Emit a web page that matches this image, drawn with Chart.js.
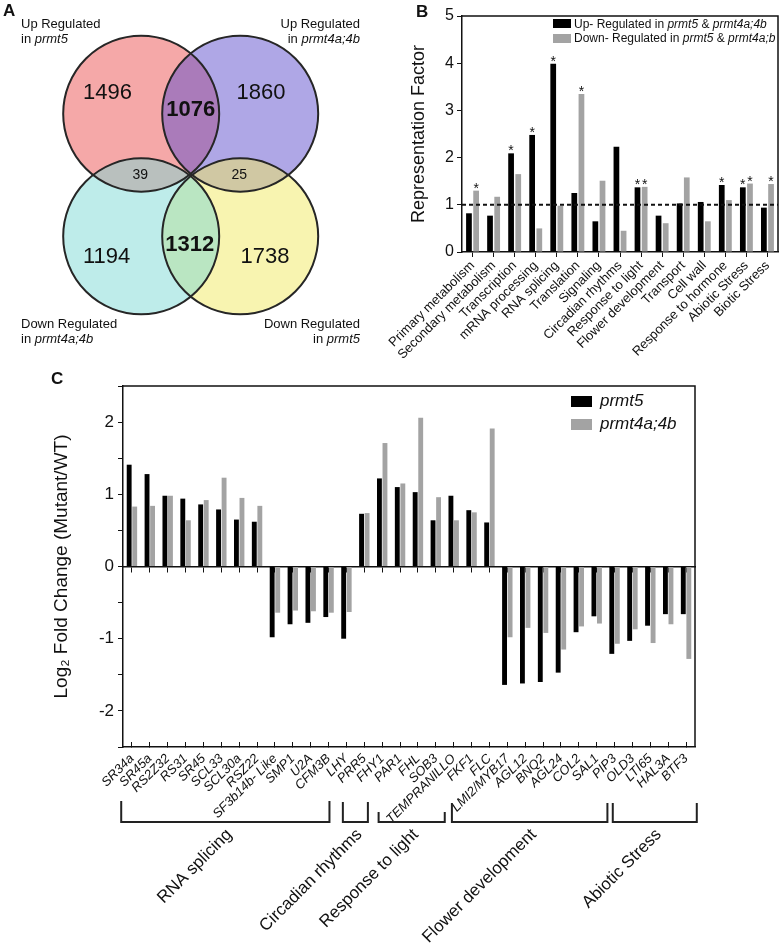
<!DOCTYPE html>
<html>
<head>
<meta charset="utf-8">
<script src="https://cdn.jsdelivr.net/npm/chart.js@4.4.0/dist/chart.umd.min.js"></script>
<style>
body { margin:0; background:#fff; width:780px; height:944px; position:relative; overflow:hidden;
  font-family: Arial, "Liberation Sans", Helvetica, sans-serif; color:#111; }
canvas { position:absolute; }
.t { position:absolute; white-space:nowrap; }
.panel { font-weight:bold; font-size:17px; }
.venn { font-size:13px; line-height:15px; }
.sw { position:absolute; }
</style>
</head>
<body>
<canvas id="venn" width="390" height="350" style="left:0;top:0"></canvas>
<canvas id="chartB" width="400" height="360" style="left:380px;top:0"></canvas>
<canvas id="chartC" width="780" height="584" style="left:0;top:360px"></canvas>

<div class="t panel" style="left:3px;top:1px">A</div>
<div class="t panel" style="left:416px;top:2px">B</div>
<div class="t panel" style="left:51px;top:369px">C</div>

<div class="t venn" style="left:21px;top:16px">Up Regulated<br>in <i>prmt5</i></div>
<div class="t venn" style="right:420px;top:16px;text-align:right">Up Regulated<br>in <i>prmt4a;4b</i></div>
<div class="t venn" style="left:21px;top:316px">Down Regulated<br>in <i>prmt4a;4b</i></div>
<div class="t venn" style="right:420px;top:316px;text-align:right">Down Regulated<br>in <i>prmt5</i></div>

<div class="sw" style="left:553px;top:19px;width:18px;height:9px;background:#000"></div>
<div class="sw" style="left:553px;top:34px;width:18px;height:9px;background:#a3a3a3"></div>
<div class="t" style="left:574px;top:17px;font-size:12px;line-height:14px">Up- Regulated in <i>prmt5</i> &amp; <i>prmt4a;4b</i></div>
<div class="t" style="left:574px;top:31px;font-size:12px;line-height:14px">Down- Regulated in <i>prmt5</i> &amp; <i>prmt4a;b</i></div>

<div class="sw" style="left:571px;top:396px;width:21px;height:11px;background:#000"></div>
<div class="sw" style="left:571px;top:419px;width:21px;height:11px;background:#a3a3a3"></div>
<div class="t" style="left:600px;top:391px;font-size:17px;line-height:20px"><i>prmt5</i></div>
<div class="t" style="left:600px;top:414px;font-size:17px;line-height:20px"><i>prmt4a;4b</i></div>

<script>
Chart.defaults.font.family = 'Arial, "Liberation Sans", Helvetica, sans-serif';
Chart.defaults.color = '#111';
Chart.defaults.animation = false;

// ---- A: Venn counts ----
const vennCounts = [1496, 1076, 1860, 39, 25, 1194, 1312, 1738];
const vennBold = [false, true, false, false, false, false, true, false];

// ---- B: representation factor ----
const bCategories = ['Primary metabolism', 'Secondary metabolism', 'Transcription', 'mRNA processing',
  'RNA splicing', 'Translation', 'Signaling', 'Circadian rhythms', 'Response to light',
  'Flower development', 'Transport', 'Cell wall', 'Response to hormone', 'Abiotic Stress', 'Biotic Stress'];
const bUp   = [0.82, 0.77, 2.09, 2.48, 3.99, 1.25, 0.65, 2.23, 1.37, 0.77, 1.03, 1.06, 1.42, 1.37, 0.94];
const bDown = [1.30, 1.17, 1.65, 0.50, 0.98, 3.35, 1.51, 0.45, 1.38, 0.61, 1.58, 0.65, 1.10, 1.45, 1.44];
const bUpStar   = [0, 0, 1, 1, 1, 0, 0, 0, 1, 0, 0, 0, 1, 1, 0];
const bDownStar = [1, 0, 0, 0, 0, 1, 0, 0, 1, 0, 0, 0, 0, 1, 1];
const bRefLine = 1;

// ---- C: log2 fold change ----
const cGenes = ['SR34a', 'SR45a', 'RS2Z32', 'RS31', 'SR45', 'SCL33', 'SCL30a', 'RSZ22', 'SF3b14b- Like',
  'SMP1', 'U2A', 'CFM3B', 'LHY', 'PRR5', 'FHY1', 'PAR1', 'FHL', 'SOB3', 'TEMPRANILLO', 'FKF1', 'FLC',
  'LMI2/MYB17', 'AGL12', 'BNQ2', 'AGL24', 'COL2', 'SAL1', 'PIP3', 'OLD3', 'LTI65', 'HAL3A', 'BTF3'];
const cPrmt5 = [1.41, 1.28, 0.98, 0.94, 0.86, 0.79, 0.65, 0.62, -0.98, -0.80, -0.78, -0.70, -1.00,
  0.73, 1.22, 1.10, 1.03, 0.64, 0.98, 0.78, 0.61, -1.64, -1.62, -1.60, -1.47, -0.91, -0.69,
  -1.21, -1.03, -0.82, -0.66, -0.66];
const cPrmt4 = [0.83, 0.84, 0.98, 0.64, 0.92, 1.23, 0.95, 0.84, -0.64, -0.61, -0.62, -0.64, -0.63,
  0.74, 1.71, 1.15, 2.06, 0.96, 0.64, 0.75, 1.91, -0.98, -0.85, -0.92, -1.15, -0.83, -0.79,
  -1.07, -0.87, -1.06, -0.80, -1.28];
const groupNames = ['RNA splicing', 'Circadian rhythms', 'Response to light', 'Flower development', 'Abiotic Stress'];
const groupFrom = [-0.6, 11.8, 13.8, 17.9, 26.9];
const groupTo   = [11.05, 13.2, 17.5, 26.6, 31.6];

// layout bits (not data)
const vennCx = [-0.5, 0.5, 0.5, -0.5];   // pink, blue, yellow, cyan
const vennCy = [0.5, 0.5, -0.5, -0.5];
const vennFill = ['rgba(235,81,81,0.5)', 'rgba(95,80,205,0.5)', 'rgba(241,233,97,0.5)', 'rgba(125,217,213,0.5)'];
const countX = [-0.84, 0, 0.71, -0.51, 0.49, -0.85, -0.01, 0.75];
const countY = [0.67, 0.53, 0.67, 0, 0, -0.67, -0.57, -0.67];
const groupTop = [54, 55, 65, 56, 56];
const groupBottom = 75;

const BLACK = '#000';
const GREY = '#a3a3a3';

const frame = {
  id: 'frame',
  afterDraw(chart) {
    const {ctx, chartArea: a} = chart;
    ctx.save();
    ctx.strokeStyle = '#111';
    ctx.lineWidth = 1.5;
    ctx.beginPath();
    ctx.moveTo(a.left, a.top);
    ctx.lineTo(a.right, a.top);
    ctx.lineTo(a.right, a.bottom);
    ctx.stroke();
    ctx.restore();
  }
};

function fixX(s, h) { s.height = h; s.paddingLeft = 0; s.paddingRight = 0; }
function fixY(s, w) { s.width = w; s.paddingTop = 0; s.paddingBottom = 0; }

// ---------- A ----------
const circles = vennCx.map((x, i) => ({x: x, y: vennCy[i], r: 78}));
new Chart(document.getElementById('venn'), {
  type: 'bubble',
  data: {
    datasets: [
      {data: circles, backgroundColor: 'rgba(0,0,0,0)', borderColor: '#262626', borderWidth: 2, order: 0, clip: false},
      {data: circles, backgroundColor: vennFill, borderWidth: 0, order: 1, clip: false}
    ]
  },
  options: {
    responsive: false,
    events: [],
    layout: {padding: 0, autoPadding: false},
    plugins: {legend: {display: false}, tooltip: {enabled: false}},
    scales: {
      x: {display: false, min: -1.926, max: 2.013},
      y: {display: false, min: -1.426, max: 1.426}
    }
  },
  plugins: [{
    id: 'counts',
    afterDatasetsDraw(chart) {
      const {ctx, scales: {x, y}} = chart;
      ctx.save();
      ctx.textAlign = 'center';
      ctx.textBaseline = 'middle';
      ctx.fillStyle = '#111';
      vennCounts.forEach((n, i) => {
        const small = n < 100;
        ctx.font = (vennBold[i] ? 'bold ' : '') + (small ? '14px' : '22px') + ' ' + Chart.defaults.font.family;
        ctx.fillText(String(n), x.getPixelForValue(countX[i]), y.getPixelForValue(countY[i]));
      });
      ctx.restore();
    }
  }]
});

// ---------- B ----------
new Chart(document.getElementById('chartB'), {
  type: 'bar',
  data: {
    labels: bCategories,
    datasets: [
      {label: 'Up- Regulated in prmt5 & prmt4a;4b', data: bUp, backgroundColor: BLACK},
      {label: 'Down- Regulated in prmt5 & prmt4a;b', data: bDown, backgroundColor: GREY}
    ]
  },
  options: {
    responsive: false,
    events: [],
    categoryPercentage: 0.68,
    barPercentage: 0.8,
    layout: {padding: {left: 0, top: 16, right: 2, bottom: 0}},
    plugins: {legend: {display: false}, tooltip: {enabled: false}},
    scales: {
      x: {
        offset: true,
        grid: {drawOnChartArea: false, offset: false, color: '#111', tickLength: 5},
        border: {color: '#111', width: 1.5},
        ticks: {autoSkip: false, maxRotation: 45, minRotation: 45, padding: 1, font: {size: 13}, color: '#111'},
        afterFit: s => fixX(s, 108)
      },
      y: {
        min: 0, max: 5,
        ticks: {stepSize: 1, font: {size: 16}, padding: 3, color: '#111'},
        grid: {drawOnChartArea: false, color: '#111', tickLength: 5},
        border: {color: '#111', width: 1.5},
        title: {display: true, text: 'Representation Factor', font: {size: 18}, color: '#111', padding: {top: 28, bottom: 0}},
        afterFit: s => fixY(s, 82)
      }
    }
  },
  plugins: [frame, {
    id: 'refAndStars',
    afterDatasetsDraw(chart) {
      const {ctx, chartArea: a, scales: {y}} = chart;
      ctx.save();
      const py = y.getPixelForValue(bRefLine);
      ctx.strokeStyle = '#111';
      ctx.lineWidth = 2;
      ctx.setLineDash([4, 3]);
      ctx.beginPath();
      ctx.moveTo(a.left, py);
      ctx.lineTo(a.right, py);
      ctx.stroke();
      ctx.setLineDash([]);
      ctx.fillStyle = '#111';
      ctx.font = '14px ' + Chart.defaults.font.family;
      ctx.textAlign = 'center';
      ctx.textBaseline = 'alphabetic';
      [bUpStar, bDownStar].forEach((stars, di) => {
        chart.getDatasetMeta(di).data.forEach((bar, i) => {
          if (stars[i]) ctx.fillText('*', bar.x, bar.y + 2);
        });
      });
      ctx.restore();
    }
  }]
});

// ---------- C ----------
new Chart(document.getElementById('chartC'), {
  type: 'bar',
  data: {
    labels: cGenes,
    datasets: [
      {label: 'prmt5', data: cPrmt5, backgroundColor: BLACK},
      {label: 'prmt4a;4b', data: cPrmt4, backgroundColor: GREY}
    ]
  },
  options: {
    responsive: false,
    events: [],
    categoryPercentage: 0.62,
    barPercentage: 0.88,
    layout: {padding: {left: 0, top: 26, right: 85, bottom: 0}},
    plugins: {legend: {display: false}, tooltip: {enabled: false}},
    scales: {
      x: {
        offset: true,
        grid: {drawOnChartArea: false, offset: false, color: '#111', tickLength: -5},
        border: {color: '#111', width: 1.5},
        ticks: {autoSkip: false, maxRotation: 45, minRotation: 45, padding: 9, font: {size: 13, style: 'italic'}, color: '#111'},
        afterFit: s => fixX(s, 197)
      },
      zero: {
        type: 'category',
        axis: 'x',
        position: {y: 0},
        offset: true,
        z: 1,
        grid: {drawOnChartArea: false, offset: false, color: '#111', tickLength: 5},
        border: {color: '#111', width: 1.5},
        ticks: {display: false}
      },
      y: {
        min: -2.5, max: 2.5,
        ticks: {stepSize: 0.5, font: {size: 17}, padding: 4, color: '#111',
          callback: v => Number.isInteger(v) ? String(v) : ''},
        grid: {drawOnChartArea: false, color: '#111', tickLength: 5},
        border: {color: '#111', width: 1.5},
        title: {display: true, text: 'Log\u2082 Fold Change (Mutant/WT)', font: {size: 19}, color: '#111', padding: {top: 50, bottom: 0}},
        afterFit: s => fixY(s, 123)
      }
    }
  },
  plugins: [frame, {
    id: 'groups',
    afterDraw(chart) {
      const {ctx, chartArea: a, scales: {x}} = chart;
      const bottom = a.bottom + groupBottom;
      ctx.save();
      ctx.strokeStyle = '#222';
      ctx.lineWidth = 2;
      ctx.fillStyle = '#111';
      ctx.font = '17px ' + Chart.defaults.font.family;
      groupNames.forEach((name, i) => {
        const x0 = x.getPixelForValue(groupFrom[i]);
        const x1 = x.getPixelForValue(groupTo[i]);
        const top = a.bottom + groupTop[i];
        ctx.beginPath();
        ctx.moveTo(x0, top);
        ctx.lineTo(x0, bottom);
        ctx.lineTo(x1, bottom);
        ctx.lineTo(x1, top);
        ctx.stroke();
        ctx.save();
        ctx.translate((x0 + x1) / 2 + 4, bottom + 10);
        ctx.rotate(-Math.PI / 4);
        ctx.textAlign = 'right';
        ctx.textBaseline = 'middle';
        ctx.fillText(name, 0, 0);
        ctx.restore();
      });
      ctx.restore();
    }
  }]
});
</script>
</body>
</html>
